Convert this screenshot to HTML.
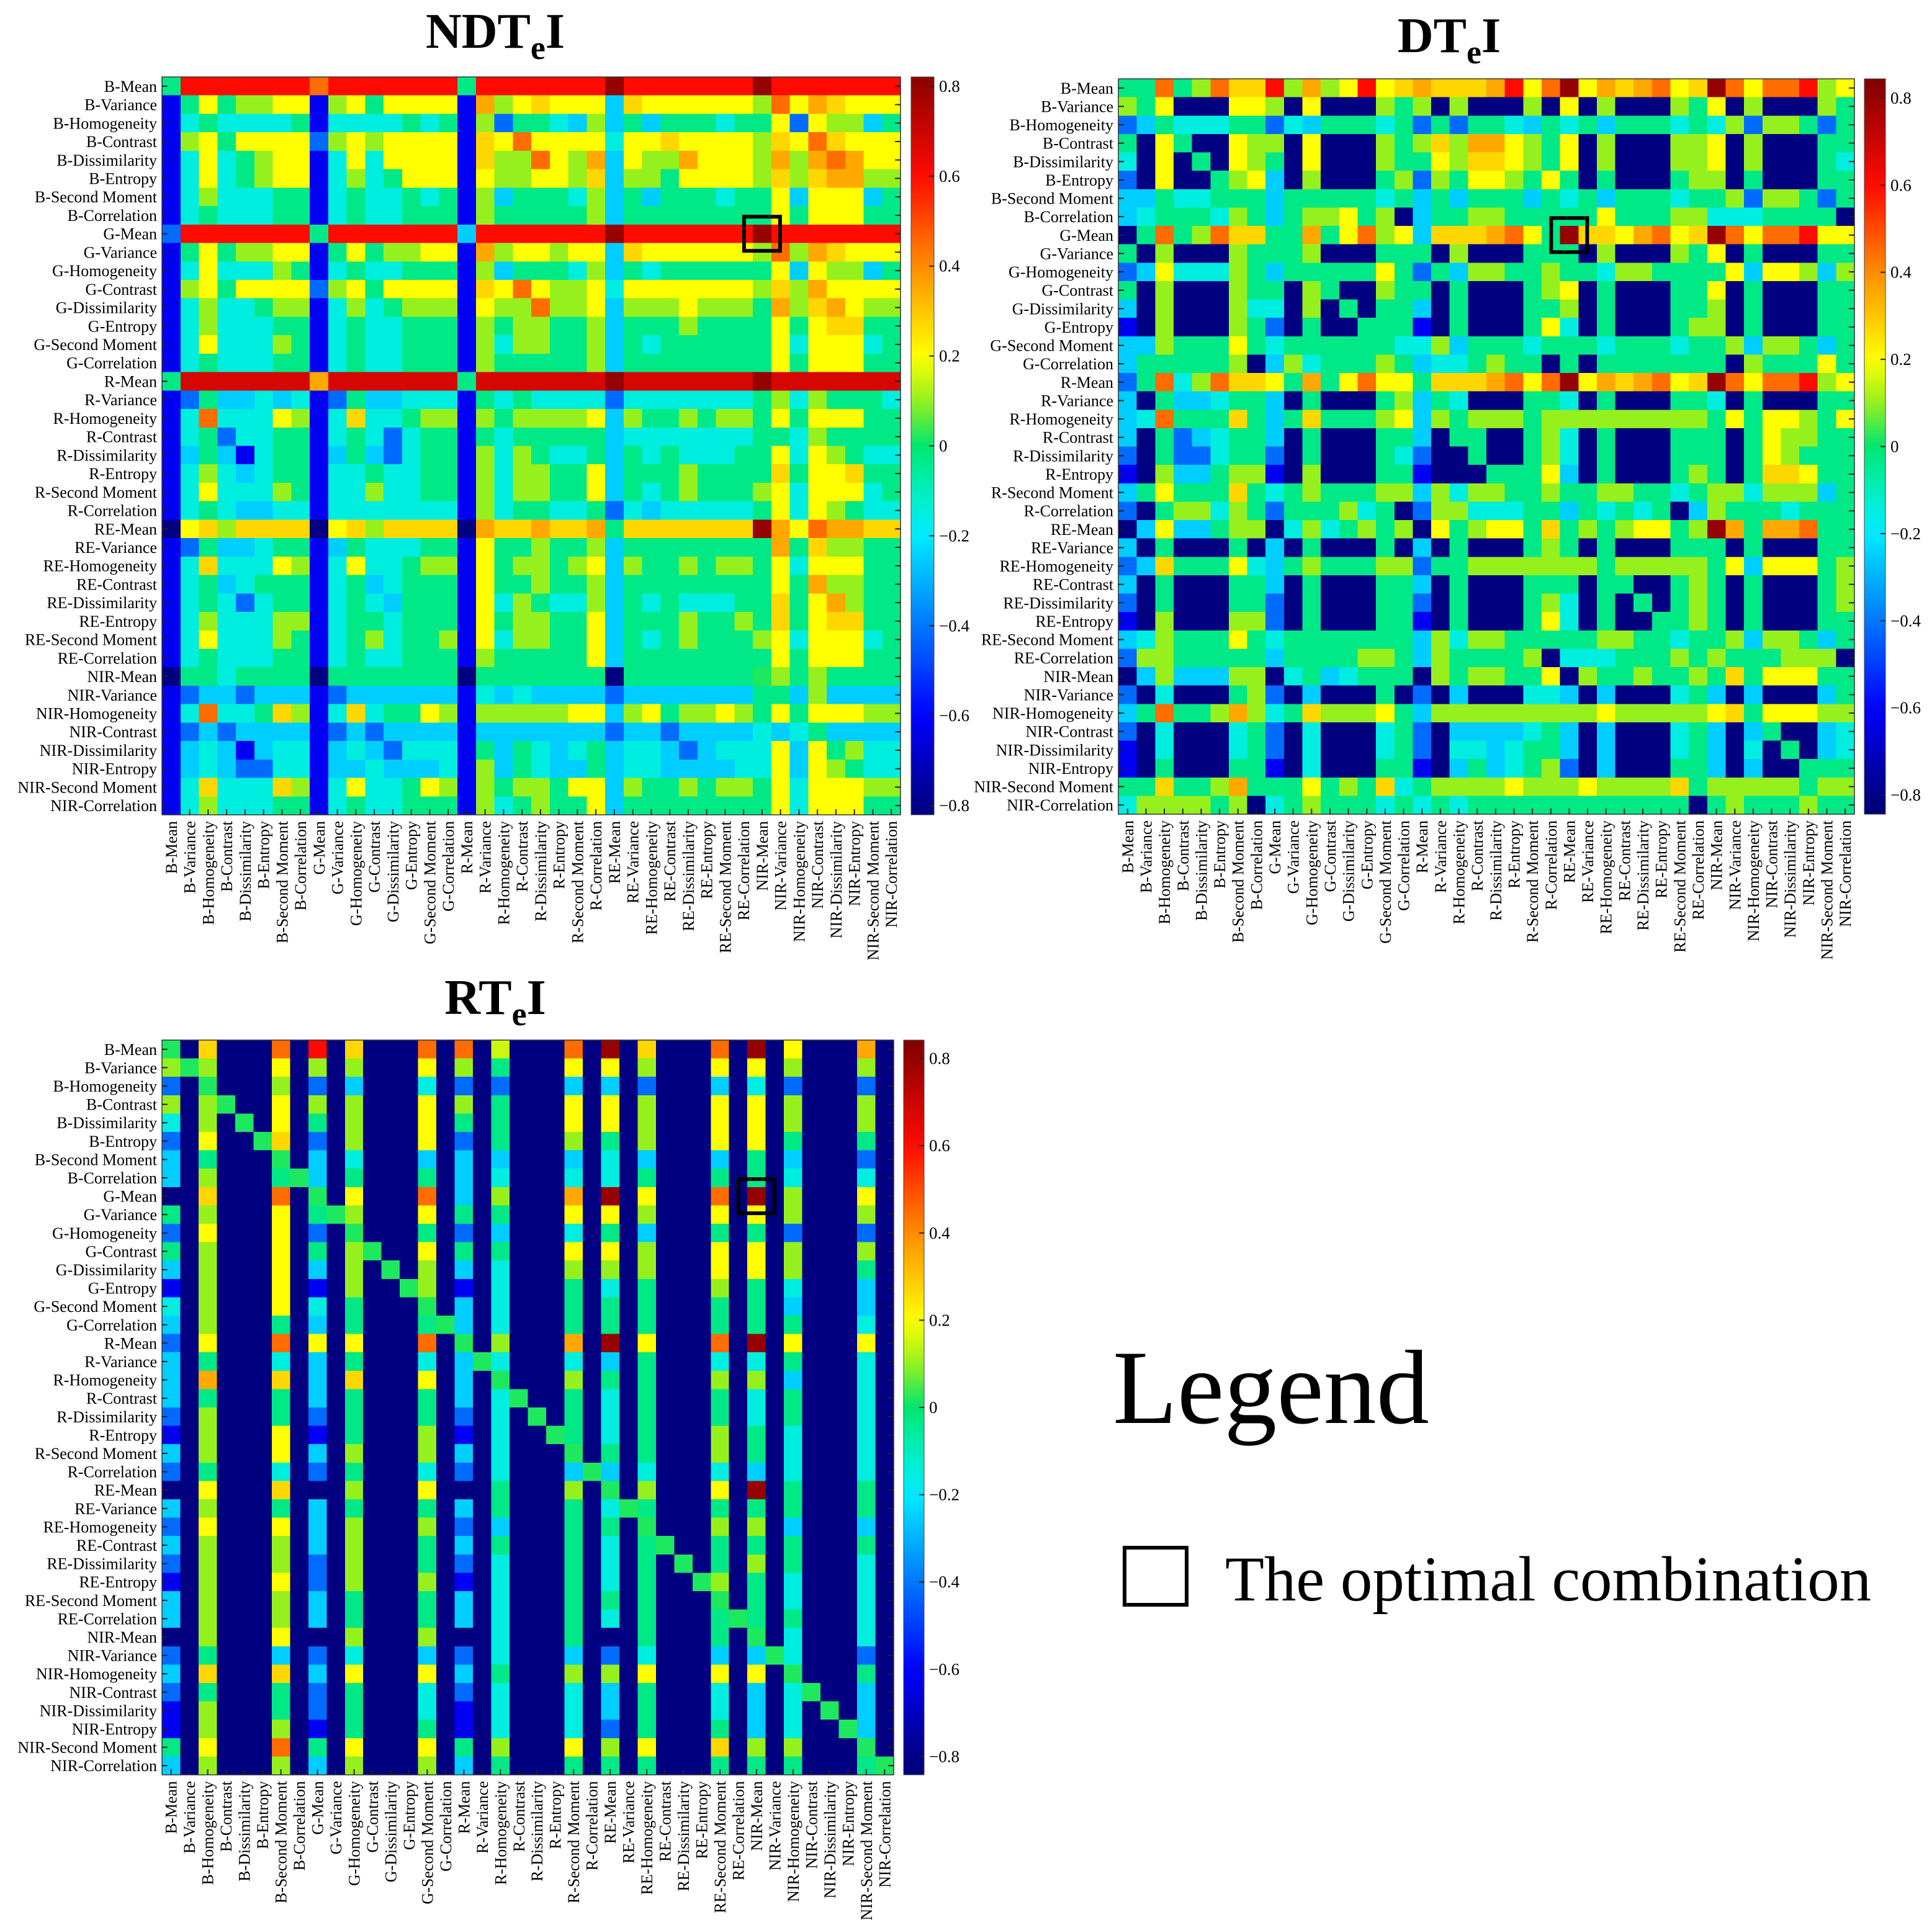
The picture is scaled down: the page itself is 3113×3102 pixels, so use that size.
<!DOCTYPE html>
<html><head><meta charset="utf-8"><title>NDTeI / DTeI / RTeI correlation heatmaps</title>
<style>
html,body{margin:0;padding:0;background:#fff;}
svg{display:block;font-family:"Liberation Serif","Times New Roman",serif;}
</style></head>
<body>
<svg id="fig" xmlns="http://www.w3.org/2000/svg" width="3113" height="3102" viewBox="0 0 3113 3102">
<defs id="defs"></defs>
<rect x="0" y="0" width="3113" height="3102" fill="#fff"/>
<g id="legend">
<text x="1793" y="2293" font-size="170" fill="#000">Legend</text>
<rect x="1812" y="2494" width="100" height="92" fill="none" stroke="#000" stroke-width="6"/>
<text x="1974" y="2579" font-size="103" fill="#000">The optimal combination</text>
</g>
</svg>
<script>
// ---------- data ----------
const features = ["B-Mean","B-Variance","B-Homogeneity","B-Contrast","B-Dissimilarity","B-Entropy","B-Second Moment","B-Correlation",
"G-Mean","G-Variance","G-Homogeneity","G-Contrast","G-Dissimilarity","G-Entropy","G-Second Moment","G-Correlation",
"R-Mean","R-Variance","R-Homogeneity","R-Contrast","R-Dissimilarity","R-Entropy","R-Second Moment","R-Correlation",
"RE-Mean","RE-Variance","RE-Homogeneity","RE-Contrast","RE-Dissimilarity","RE-Entropy","RE-Second Moment","RE-Correlation",
"NIR-Mean","NIR-Variance","NIR-Homogeneity","NIR-Contrast","NIR-Dissimilarity","NIR-Entropy","NIR-Second Moment","NIR-Correlation"];

// value codes (correlation coefficients)
const codeKeys = ["K","B","M","C","T","g","G","l","L","y","Y","o","O","r","S","R"];
const codeVals = [-0.82,-0.62,-0.42,-0.25,-0.15,-0.03,0.02,0.1,0.15,0.2,0.27,0.35,0.45,0.6,0.68,0.8];

const colorbarTicks = [0.8,0.6,0.4,0.2,0,-0.2,-0.4,-0.6,-0.8];

const ndteiRows = [
"grrrrrrr Orrrrrrr grrrrrrr Rrrrrrrr Rrrrrrrr",
"Bgygllyy Blygyyyy BolyYyyy CYyyyyyy lOyoYyyy",
"BTgTTTTg BTTTTgTg BlMggTCl CgCgggTg gyMyllCg",
"Blygyyyy Mlylyyyy BYyOyyyy TyyYyyyy lYyOYyyy",
"BTyTglyy BTyTyyyy BYllOylo Cylloyyy loloOoyy",
"BTyTglyy BTlTgyyy ByllyylY Cllgyyyy lYlYooll",
"BTlTTTgg BTgTTgTg BlCgggTl CgCgggTg gyCyyyCg",
"BTgTTTgg BTgTTggg Blgggggl Cggggggg gygyyygg",
"Mrrrrrrr grrrrrrr Crrrrrrr Rrrrrrrr Rrrrrrrr",
"Bgygllyy Bgygllyy Bolyylyy CYyyyyyy lOloYyyy",
"BTyTTTlg BTgTTggg BlCgggTl CgTggggg gyCyllCg",
"Blygyyyy Mlygyyyy BYyOylly Tyyyyyyy lYloyyyy",
"BTlTTgll BTlTglll ByllOlly Clllylll golYoyll",
"BTlTTTgg BTgTTggg Blgllggl Cggglggg gygyYYgg",
"BTyTTTlg BTgTTggg BlTllggl CgTggggg gyTyyyTg",
"BTgTTTgg BTgTTggg Blgggggl Cggggggg gygyyygg",
"gSSSSSSS oSSSSSSS gSSSSSSS RSSSSSSS RSSSSSSS",
"BMgCCTCT BMgCCTTT BgTgTTTT MTTTTTTT glTlgggT",
"BTOTTTyl BTYTTgll Blglllly Clgglgll gygyyygg",
"BTgMTTgg BTgTMTgg BgTggggg CTTTTTTT ggTlgggg",
"BCgCBTgg BCgCMTgg BlTlgTTg CgTgTTTg gyTylgTT",
"BTlTCTgg BTTgTTgg BlTllggy Cggglggg gYgyyYgg",
"BTyTTTlg BTTlTTgg BlTllggy CgTglggg lyTyyyTg",
"BTgTCCTT BTTTTTTT BlTggTTg MTCTTTTT gyTylgTT",
"KyYlYYYY KyYlYYYY KoYYoYYo gYYYYYYY RoyOooYY",
"BMgCCTgg BCgTTTgg Bygglggl Cggggggg gogYllgg",
"BTYTTTyl BTyTTgll Bygllgly Clgglgll gyTyyygg",
"BTgCTggg BTgCTggg Bygglggl Cggggggg gygollgg",
"BTgTMTgg BTgTCggg ByTlgTTl CgTgTTTg gYgyolgg",
"BTlTTTll BTggTggg Bygllggy Cggglggl gYgyYYgg",
"BTyTTTlg BTglTggl ByTllggy CgTglggg lyTyyyTg",
"BTgTTTgg BTgTTggg Blgggggy Cggggggg gygyyygg",
"KggTgggg Kggggggg Kggggggg Kggggggg Glglgggg",
"BMCCMCCC BMCCCCCC BTCTCCCC MCCCCCCC ggClCCCC",
"BTOTTgYl BTYTggyl Blllllyy Clygllyl gygyyyll",
"BMCMCCCC BMCMCCCC BCCCCCCC MCCMCCCC TCTgCCCC",
"BCTCBCTT BCTCMTTT BgCgTCTg CTTCMCTT TyCyglTT",
"BCTCMMTT BCCTCCCT BlCgTCCg CTTCCCCT TyCylgTT",
"BTYTTTYl BTyTTgyl Blgllgyy Clgglgll gyTyyyll",
"BTlTTTgg BTgTTggg BlTglggy Cggggggg gyTyyygg"];

const dteiRows = [
"ggOglOYY rlolyryY oYYYoryO RyoYoOyY ROyOOrly",
"lgyKKKyy lKyKKKlg lKlKKKlK yKlKKKlg yKlKKKlg",
"MCgTTTgg MTCgggTg MgMggTCg TgCgggTg TlMllgMg",
"gKygKKyl lKyKKKlg lYlooylg yKlKKKll yKlKKKgg",
"TKyKgKyl gKyKKKlg gylYYylg yKlKKKll yKlKKKgT",
"MKyKKgly CKlKKKgl Mlgyylgy gKgKKKgl lKgKKKgg",
"CCgTTggg CgggggTg CgCgggCg TgCgggTg glMllgMg",
"CTgggTlg CgllyglK Cggllggg ggygggll TTTggggK",
"KgOglOYY ggogyOly CYYYoOyg RYYyoOyY ROyOOryy",
"gKlKKKlg gglKKKgg gKlKKKgg gKlKKKlg yKgKKKgg",
"MCyTTTlg Cgggggyg MgCllggl ggTllggg gyCyylCl",
"gKlKKKlg gKlgKKlg gKgKKKgl yKgKKKgg yKgKKKgg",
"CKlKKKlT TKlKgKgg CKgKKKgg lKgKKKgg lKgKKKgg",
"BKlKKKlg MKgKKggg BKgKKKgy TKgKKKgl lKgKKKgg",
"CClgggyg TggggggT TlCgggTg ggTgggTg glCllgCg",
"CggggglK ClTggglg CTTglggK gKgggggg gKlgggyg",
"MgOTlOYY ygogyOyy gYYYoOyO RyoYoOyY ROyOOrly",
"CKgCCTgg CKgKKKgl CgTKKKgg TKgKKKgg TKgKKKgg",
"CTOgggYg CgYgggly Clglllgl llllllll gygyylgy",
"CKgMCTgg CKgKKKgg CKggKKgl TKgKKKgg gKgyllgg",
"MKgMMTgg MKgKKKgT MKKgKKgl TKgKKKgg gKgylggg",
"BKlCCgll BKlKKKgg BKKKgggy CKgKKKgl gKgYYygg",
"CgygggYg Tglgggll ClTllggl ggllggTg llTlllCg",
"MKgllTlg MggglTgK MllTTTgg CgTgTgKC lgggTggg",
"KCyCCgll KTlTglgl KyglyygY glglyygl RogooOgg",
"CKgKKKgK CKgKKKgK CKgKKKgl gKgKKKgg gKgKKKgg",
"MCYgggyT Cglgggll Mgglllll llglllll gyCyyygl",
"CKgKKKgg CKgKKKgg CKgKKKgg gKggKKgl gKgKKKgl",
"MKgKKKgg MKgKKKgg MKgKKKgl TKgKgKgl gKgKKKgl",
"BKlKKKll MKgKKKgg BKgKKKgy TKgKKggl gKgKKKgg",
"CTlgggyg Tggggggg ClTllggg ggllggTg glCllgCg",
"Mllggggg Cggggllg ClgggglK TTTggglg lggglllK",
"KClCCCll KTgCTggg Klgllggy Klgglggl gYgyyygg",
"MKTKKKgl MKCKKKgK MKCKKKTT CKCKKKTg CKCKKKCg",
"CgOgglol TgYlllyg Clllllll llylllll yYgyyyll",
"MKTKKKTg MKTKKKTg MKCCCCTg CKCKKKTg CKCgKKCT",
"BKTKKKTg MKTKKKTg MKTTCTgg CKCKKKTg CKTKgKCT",
"BKgKKKgg BKTKKKgg BKCgCTgl MKCKKKgg CKCKKggg",
"ggYgglog ggyglgYT gllllyll lyllllYg lllllgll",
"TllllglK TglgggTg TgTggggg gggggggK glggglgg"];

// RTeI: only these feature columns are populated, plus the diagonal; all else -0.82
const rteiCols = [0,2,6,8,10,14,16,18,22,24,26,30,32,34,38];
const rteiDiag = "G";
const rteiFill = "K";
const rteiRows = [
"gYOrYOOLORYORyo","llyllylgyylyyll","MglMCTMMCCMCTMM","llyllylgyylyyll","Tlyglyggyylyyll",
"MyYMlyMglglyygg","CggCTCCCCTCCgCM","ClgCggCTTTgggTT","KYOgyOCloRyORly","glyglyggyylyyll",
"MyyMggMCTgCggMM","glyglyggyylyyll","ClyCllCTlllyylg","BlyBllBTgTglgTC","TlyTggCTgggggCC",
"ClgCggCTggggggT","MyOyyOgloRyORyy","CgTCgTCTTCgTTgT","CoYCYyCglggllCT","CggCggCTgTggTgT",
"MlgMggMTgTggTgT","BlyBglBTgTglgTT","ClyCllCTggglgTT","MgTMgTMTCCTTCTT","KyYKlyKglglyRgg",
"ClgCggCggTggggg","MyyCllMCgggllCC","CllClgCggTggggg","MllMlgMTgTgglgT","BlyMllBTgTglgTT",
"CllCggCTgggggTT","CllCggCTgTggggT","KlyKllKTgKgggTT","MgCMTCMTCMTCCTM","CYYCyyCgllyyygg",
"MggMgTMTTCgTCTC","BlgMgTBTTCgTCTC","BllBggBTTMggCTC","gyOgyyglylyYllg","CllCllCgggggggg"];

// optimal combination (row index, column index)
const ndteiOptimal = [8,32];
const dteiOptimal = [8,24];
const rteiOptimal = [8,32];

// ---------- helpers ----------
const NS = "http://www.w3.org/2000/svg";
const svg = document.getElementById("fig");
function mk(tag, attrs, parent){
  const e = document.createElementNS(NS, tag);
  for (const k in attrs) e.setAttribute(k, attrs[k]);
  (parent||svg).appendChild(e);
  return e;
}
function codeVal(ch){ const i = codeKeys.indexOf(ch); return i<0 ? 0 : codeVals[i]; }
function decodeRows(rows){ return rows.map(r => r.replace(/\s+/g,"").split("").slice(0,40).map(codeVal)); }
function decodeRT(rows){
  return rows.map((r,i) => {
    const out = new Array(40).fill(codeVal(rteiFill));
    rteiCols.forEach((c,k) => { out[c] = codeVal(r[k]); });
    out[i] = codeVal(rteiDiag);
    return out;
  });
}
const cmStops = [[-0.84,0,0,120],[-0.78,0,0,145],[-0.6,0,0,255],[-0.4,0,120,255],[-0.2,0,235,255],[-0.1,0,240,190],
[0,0,230,110],[0.1,150,240,30],[0.2,255,255,0],[0.4,255,140,0],[0.6,255,10,0],[0.84,128,0,0]];
function cmap(v){
  if (v<=cmStops[0][0]) return `rgb(${cmStops[0][1]},${cmStops[0][2]},${cmStops[0][3]})`;
  for (let i=1;i<cmStops.length;i++){
    if (v<=cmStops[i][0]){
      const a=cmStops[i-1], b=cmStops[i], t=(v-a[0])/(b[0]-a[0]);
      return `rgb(${Math.round(a[1]+t*(b[1]-a[1]))},${Math.round(a[2]+t*(b[2]-a[2]))},${Math.round(a[3]+t*(b[3]-a[3]))})`;
    }
  }
  const l=cmStops[cmStops.length-1]; return `rgb(${l[1]},${l[2]},${l[3]})`;
}

// ---------- panel drawing ----------
function panel(p){
  const g = mk("g", {});
  
  
  const n = features.length;
  const cw = p.w/n, ch = p.h/n;
  const xScale = c => p.x0 + c*cw;
  const yScale = r => p.y0 + r*ch;

  // title
  const t = mk("text", {x:p.tx, y:p.ty, "font-size":80, "font-weight":"bold", "text-anchor":"middle", fill:"#000"}, g);
  
  
  t.appendChild(document.createTextNode(p.t1));
  const sub = mk("tspan", {"font-size":54, dy:18}, t); sub.textContent = "e";
  const rest = mk("tspan", {dy:-18}, t); rest.textContent = "I";

  // cells
  const cells = mk("g", {"shape-rendering":"crispEdges"}, g);
  
  
  p.data.forEach((row, r) => row.forEach((v, c) => {
    const rc = mk("rect", {x:xScale(c).toFixed(2), y:yScale(r).toFixed(2), width:(cw+0.6).toFixed(2), height:(ch+0.6).toFixed(2), fill:cmap(v)}, cells);
    
    
  }));
  const fr = mk("rect", {x:p.x0, y:p.y0, width:p.w, height:p.h, fill:"none", stroke:"#333", "stroke-width":1.5}, g);
  
  

  // ticks + labels
  for (let i=0;i<n;i++){
    const yc = yScale(i)+ch/2, xc = xScale(i)+cw/2;
    mk("line", {x1:p.x0, x2:p.x0+9, y1:yc, y2:yc, stroke:"#222", "stroke-width":2}, g);
    mk("line", {x1:p.x0+p.w, x2:p.x0+p.w-9, y1:yc, y2:yc, stroke:"#222", "stroke-width":2}, g);
    mk("line", {x1:xc, x2:xc, y1:p.y0+p.h, y2:p.y0+p.h-9, stroke:"#222", "stroke-width":2}, g);
    const yl = mk("text", {x:p.x0-8, y:yc+9, "font-size":26, "text-anchor":"end", fill:"#000"}, g);
    
    
    yl.textContent = features[i];
    const xl = mk("text", {x:0, y:0, "font-size":26, "text-anchor":"end", fill:"#000",
      transform:`translate(${(xc+9).toFixed(1)},${p.y0+p.h+10}) rotate(-90)`}, g);
    
    
    xl.textContent = features[i];
  }

  // optimal box
  const [orow, ocol] = p.opt;
  const bw = 58, bh = 55;
  const box = mk("rect", {x:(xScale(ocol)+cw/2-bw/2).toFixed(1), y:(yScale(orow)+ch/2-bh/2).toFixed(1), width:bw, height:bh, fill:"none", stroke:"#000", "stroke-width":6}, g);
  
  

  // colorbar
  const gid = p.name + "-grad";
  const lg = mk("linearGradient", {id:gid, x1:0, y1:0, x2:0, y2:1}, document.getElementById("defs"));
  for (let k=0;k<=40;k++){
    const v = p.cmax - (2*p.cmax)*k/40;
    mk("stop", {offset:(k/40).toFixed(3), "stop-color":cmap(v)}, lg);
  }
  const cb = mk("rect", {x:p.cbx, y:p.y0, width:p.cbw, height:p.h, fill:`url(#${gid})`, stroke:"#444", "stroke-width":1}, g);
  
  
  const cbY = v => p.y0 + (p.cmax - v)/(2*p.cmax)*p.h;
  colorbarTicks.forEach(v => {
    const y = cbY(v);
    mk("line", {x1:p.cbx+p.cbw-8, x2:p.cbx+p.cbw, y1:y, y2:y, stroke:"#222", "stroke-width":2}, g);
    const lb = mk("text", {x:p.cbx+p.cbw+8, y:y+9, "font-size":27, fill:"#000"}, g);
    
    
    lb.textContent = (v<0?"\u2212":"") + (v===0?"0":Math.abs(v).toFixed(1));
  });
}

panel({name:"ndtei", t1:"NDT", tx:798, ty:77, x0:261, y0:124, w:1190, h:1189, cbx:1468, cbw:37, cmax:0.8207, opt:ndteiOptimal, data:decodeRows(ndteiRows)});
panel({name:"dtei", t1:"DT", tx:2335, ty:84, x0:1802, y0:127, w:1186, h:1185, cbx:3004, cbw:34, cmax:0.844, opt:dteiOptimal, data:decodeRows(dteiRows)});
panel({name:"rtei", t1:"RT", tx:798, ty:1634, x0:261, y0:1676, w:1179, h:1184, cbx:1456, cbw:33, cmax:0.842, opt:rteiOptimal, data:decodeRT(rteiRows)});
</script>
</body></html>
